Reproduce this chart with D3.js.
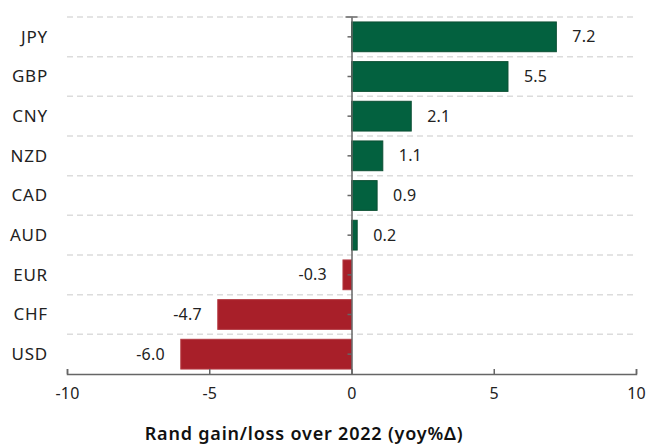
<!DOCTYPE html>
<html>
<head>
<meta charset="utf-8">
<script src="https://cdn.jsdelivr.net/npm/d3@7"></script>
<style>
  html, body { margin: 0; padding: 0; background: #fff; }
  svg { display: block; font-family: "Noto Sans", "Open Sans", sans-serif; }
</style>
</head>
<body>
<svg id="chart" width="646" height="444"></svg>
<script>
// Rand gain/loss against major currencies over 2022 (year-on-year % change)
const currencies = ["JPY", "GBP", "CNY", "NZD", "CAD", "AUD", "EUR", "CHF", "USD"];
const changes = [7.2, 5.5, 2.1, 1.1, 0.9, 0.2, -0.3, -4.7, -6.0];
const xTicks = [-10, -5, 0, 5, 10];
const axisTitle = "Rand gain/loss over 2022 (yoy%\u0394)";

const data = currencies.map((c, i) => ({ name: c, value: changes[i] }));
const FONT = "'Noto Sans', 'Open Sans', sans-serif";

const svg = d3.select("#chart");
const margin = { top: 17, right: 10, bottom: 70, left: 67 };
const width = 636 - margin.left;
const height = 374 - margin.top;

const g = svg.append("g").attr("transform", `translate(${margin.left},${margin.top})`);

const x = d3.scaleLinear().domain([-10, 10]).range([0, width]);
const y = d3.scaleBand().domain(currencies).range([0, height]).paddingInner(0.25).paddingOuter(0.125);

// dashed gridlines at band boundaries
const bounds = currencies.map(c => y(c) - y.step() * y.paddingInner() / 2);
g.append("g").selectAll("line")
  .data(bounds)
  .join("line")
  .attr("x1", 0).attr("x2", width)
  .attr("y1", d => d).attr("y2", d => d)
  .attr("stroke", "#dcdcdc")
  .attr("stroke-width", 1.5)
  .attr("stroke-dasharray", "6,4");

// bars
g.append("g").selectAll("rect")
  .data(data)
  .join("rect")
  .attr("x", d => x(Math.min(0, d.value)))
  .attr("width", d => Math.abs(x(d.value) - x(0)))
  .attr("y", d => y(d.name))
  .attr("height", y.bandwidth())
  .attr("fill", d => d.value >= 0 ? "#03613f" : "#a81f29")
  .attr("stroke", d => d.value >= 0 ? "#0b4f33" : "#b43a42")
  .attr("stroke-width", 1);

// value labels
g.append("g").selectAll("text")
  .data(data)
  .join("text")
  .attr("x", d => d.value >= 0 ? x(d.value) + 16 : x(d.value) - 16)
  .attr("y", d => y(d.name) + y.bandwidth() / 2)
  .attr("dy", "0.35em")
  .attr("text-anchor", d => d.value >= 0 ? "start" : "end")
  .attr("fill", "#222")
  .style("font-size", "16px")
  .style("letter-spacing", "0.2px")
  .text(d => d.value.toFixed(1).replace("-", "\u2011"));

// x axis with upward ticks
const xAxis = g.append("g")
  .attr("transform", `translate(0,${height})`)
  .call(d3.axisBottom(x).tickValues(xTicks).tickSize(-5).tickSizeOuter(-5).tickPadding(14)
    .tickFormat(d => String(d).replace("-", "\u2011")));
xAxis.select(".domain").attr("stroke", "#666").attr("stroke-width", 1.5);
xAxis.selectAll(".tick line").attr("stroke", "#666").attr("stroke-width", 1.5);
xAxis.selectAll(".tick text").attr("fill", "#222").style("font-size", "16px")
  .style("letter-spacing", "0.2px").style("font-family", FONT);

// y axis drawn at zero
const yAxis = g.append("g")
  .attr("transform", `translate(${x(0)},0)`)
  .call(d3.axisLeft(y).tickSize(4).tickSizeOuter(0).tickFormat(""));
yAxis.select(".domain").attr("stroke", "#666").attr("stroke-width", 1.5);
yAxis.selectAll(".tick line").attr("stroke", "#666").attr("stroke-width", 1.5);
// top cap of the zero line
yAxis.append("line")
  .attr("x1", -6).attr("x2", 6).attr("y1", 0).attr("y2", 0)
  .attr("stroke", "#666").attr("stroke-width", 1.5);

// category labels
g.append("g").selectAll("text")
  .data(currencies)
  .join("text")
  .attr("x", -19)
  .attr("y", d => y(d) + y.bandwidth() / 2)
  .attr("dy", "0.35em")
  .attr("text-anchor", "end")
  .attr("fill", "#222")
  .style("font-size", "17px")
  .style("letter-spacing", "0.8px")
  .text(d => d);

// axis title
svg.append("text")
  .attr("x", 304)
  .attr("y", 440)
  .attr("text-anchor", "middle")
  .attr("fill", "#111")
  .style("font-size", "18px")
  .style("font-weight", "600")
  .style("letter-spacing", "0.8px")
  .text(axisTitle);
</script>
</body>
</html>
